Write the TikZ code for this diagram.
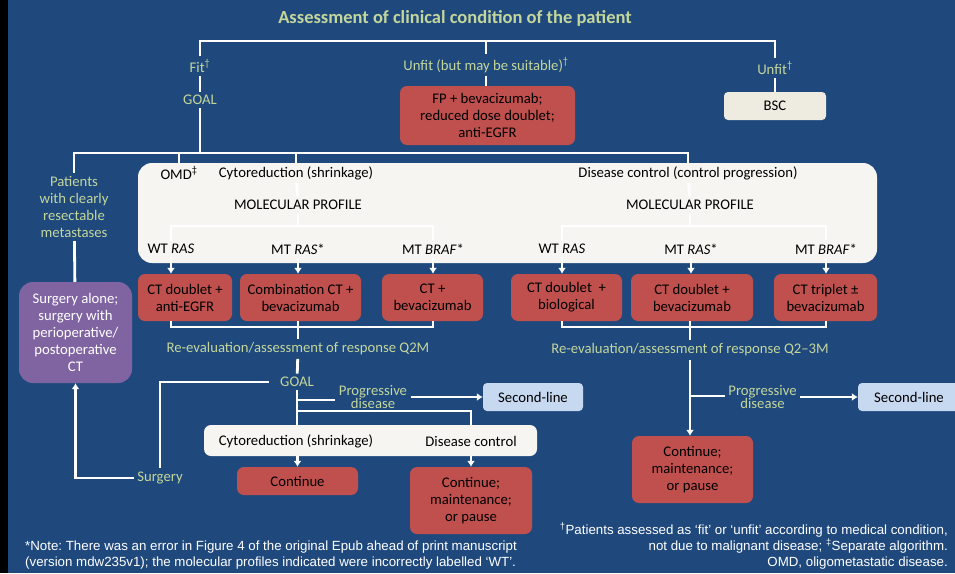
\documentclass[tikz,border=0pt]{standalone}
\usepackage{fontspec}
\setmainfont{Carlito}
\newfontfamily\notefont{Liberation Sans}
\usetikzlibrary{positioning,arrows.meta}
\frenchspacing

\definecolor{bgblue}{HTML}{1F497D}
\definecolor{lgreen}{HTML}{C3D69B}
\definecolor{boxred}{HTML}{C0504D}
\definecolor{boxwhite}{HTML}{F6F5F1}
\definecolor{boxbeige}{HTML}{EEECE1}
\definecolor{boxblue}{HTML}{C6D9F1}
\definecolor{boxpurple}{HTML}{8064A2}

\begin{document}
\begin{tikzpicture}[x=1pt,y=-1pt,>=Latex,
  every node/.style={font=\fontsize{14.7}{17}\selectfont,align=center},
  lbl/.style={text=lgreen},
  title/.style={text=lgreen,font=\bfseries\fontsize{18.5}{20}\selectfont},
  redbox/.style={fill=boxred,rounded corners=7pt,inner sep=0pt},
  whitebox/.style={fill=boxwhite,rounded corners=7pt,inner sep=0pt},
  beigebox/.style={fill=boxbeige,rounded corners=4pt,inner sep=0pt},
  bluebox/.style={fill=boxblue,rounded corners=4pt,inner sep=0pt,minimum width=100,minimum height=28},
  note/.style={text=white,inner sep=0pt,font=\notefont\fontsize{13.3}{16}\selectfont},
  conn/.style={draw=white,line width=2.8pt},
  arr/.style={conn,-{Latex[length=6pt,width=8pt]}},
]
  \useasboundingbox (0,0) rectangle (955,573);
  \clip (0,0) rectangle (955,573);
  \fill[bgblue] (0,0) rectangle (955,573);
  \fill[black] (0,0) rectangle (8,573);

  % condition of the patient
  \node[title] (title) at (455,18) {Assessment of clinical condition of the patient};
  \node[lbl] (fit) at (200,66) {Fit\textsuperscript{†}};
  \node[lbl] (goal) at (200,100) {GOAL};
  \node[lbl] (unfitms) at (486,65) {Unfit (but may be suitable)\textsuperscript{†}};
  \node[lbl] (unfit) at (775,68) {Unfit\textsuperscript{†}};
  \node[redbox,minimum width=175,minimum height=59] (fpbox) at (487.5,115.5) {FP + bevacizumab;\\reduced dose doublet;\\anti-EGFR};
  \node[beigebox,minimum width=102,minimum height=28] (bsc) at (775,106) {BSC};

  \draw[conn] (fit.north) -- (fit.north |- 0,41) -| (unfit.north);
  \draw[conn] (unfitms.north |- 0,41) -- (unfitms.north);
  \draw[conn] (fit) -- (goal);
  \draw[conn] (unfitms) -- (unfitms |- fpbox.north);
  \draw[conn] (unfit) -- (bsc);

  % goal box
  \node[lbl] (patients) at (74,207) {Patients\\with clearly\\resectable\\metastases};
  \node[whitebox,rounded corners=14pt,minimum width=739,minimum height=100] (goalbox) at (507.5,213) {};
  \node (omd) at (179,173) {OMD\textsuperscript{‡}};
  \node (cyto) at (296,173) {Cytoreduction (shrinkage)};
  \node (dc) at (688,173) {Disease control (control progression)};
  \node (mp1) at (298,205) {MOLECULAR PROFILE};
  \node (mp2) at (690,205) {MOLECULAR PROFILE};
  \node (wt1) at (171,249) {WT \textit{RAS}};
  \node (mtr1) at (298,249) {MT \textit{RAS}*};
  \node (braf1) at (433,249) {MT \textit{BRAF}*};
  \node (wt2) at (562,249) {WT \textit{RAS}};
  \node (mtr2) at (691,249) {MT \textit{RAS}*};
  \node (braf2) at (826,249) {MT \textit{BRAF}*};

  \draw[conn] (goal.south) -- (goal.south |- 0,153);
  \draw[conn] (patients.north) -- (patients.north |- 0,153) -| (dc.north);
  \draw[conn] (omd.north |- 0,153) -- (omd.north |- goalbox.north);
  \draw[conn] (cyto.north |- 0,153) -- (cyto.north);
  \draw[conn] (cyto) -- (mp1);
  \draw[conn] (dc) -- (mp2);
  \draw[conn] (mp1.south) -- (mp1.south |- 0,226);
  \draw[conn] (mp2.south) -- (mp2.south |- 0,226);
  \draw[conn] (wt1.north) -- (wt1.north |- 0,226) -| (braf1.north);
  \draw[conn] (wt2.north) -- (wt2.north |- 0,226) -| (braf2.north);

  % first-line treatment
  \begin{scope}[every node/.append style={redbox,minimum height=47}]
    \node[minimum width=94] (r1) at (185,297.5) {CT doublet +\\anti-EGFR};
    \node[minimum width=121] (r2) at (300.5,297.5) {Combination CT +\\bevacizumab};
    \node[minimum width=101] (r3) at (432.5,297.5) {CT +\\bevacizumab};
    \node[minimum width=111] (r4) at (566.5,297.5) {CT doublet \ +\\biological};
    \node[minimum width=122] (r5) at (692,297.5) {CT doublet +\\bevacizumab};
    \node[minimum width=103] (r6) at (825.5,297.5) {CT triplet ±\\bevacizumab};
  \end{scope}
  \foreach \a/\b in {wt1/r1,mtr1/r2,braf1/r3,wt2/r4,mtr2/r5,braf2/r6}
    \draw[arr] (\a.south) -- (\a.south |- \b.north);

  \node[lbl] (reeval1) at (298,349) {Re-evaluation/assessment of response Q2M};
  \node[lbl] (reeval2) at (690,350) {Re-evaluation/assessment of response Q2–3M};
  \draw[conn] (r1.south -| wt1) -- (wt1 |- 0,327) -| (r3.south -| braf1);
  \draw[conn] (r4.south -| wt2) -- (wt2 |- 0,327) -| (r6.south -| braf2);
  \draw[conn] (r2.south -| reeval1) -- (reeval1);
  \draw[conn] (r5.south -| reeval2) -- (reeval2);

  % surgery
  \node[fill=boxpurple,rounded corners=14pt,inner sep=0pt,text=white,minimum width=113,minimum height=101] (purple) at (75.5,332.5) {Surgery alone;\\surgery with\\perioperative/\\postoperative\\CT};
  \draw[conn] (patients) -- (purple);

  % after re-evaluation, left
  \node[lbl] (goal2) at (297,382) {GOAL};
  \node[lbl,font=\fontsize{14.7}{13}\selectfont] (prog1) at (373,396.5) {Progressive\\disease};
  \node[bluebox] (second1) at (533,397) {Second-line};
  \node[whitebox,minimum width=333,minimum height=31] (white2) at (370.5,440.5) {};
  \node (cyto2) at (296,441) {Cytoreduction (shrinkage)};
  \node (dc2) at (471,441) {Disease control};
  \node[lbl] (surgery) at (160,478) {Surgery};
  \node[redbox,minimum width=121,minimum height=28] (cont1) at (297.5,481) {Continue};
  \node[redbox,minimum width=122,minimum height=67] (cont2) at (471,500.5) {Continue;\\maintenance;\\or pause};

  \draw[conn] (reeval1) -- (goal2);
  \draw[conn,shorten <=8pt] (goal2.west) -| (surgery.north);
  \draw[arr] (surgery.west) -| (purple.south);
  \draw[conn] (goal2.south) -- (goal2.south |- white2.north);
  \draw[conn] (goal2.south |- 0,400) -- (prog1.west |- 0,400);
  \draw[arr] (prog1.east |- second1) -- (second1.west);
  \draw[conn] (goal2.south |- 0,411) -| (dc2.north |- white2.north);
  \draw[arr] (cont1 |- white2.south) -- (cont1.north);
  \draw[arr] (cont2 |- white2.south) -- (cont2.north);

  % after re-evaluation, right
  \node[lbl,font=\fontsize{14.7}{13}\selectfont] (prog2) at (762.5,396.5) {Progressive\\disease};
  \node[bluebox,minimum width=102] (second2) at (909,397) {Second-line};
  \node[redbox,minimum width=121,minimum height=67] (cont3) at (692.5,469.5) {Continue;\\maintenance;\\or pause};
  \draw[arr] (reeval2.south) -- (reeval2.south |- cont3.north);
  \draw[conn] (reeval2.south |- 0,396) -- (prog2.west |- 0,396);
  \draw[arr] (prog2.east |- second2) -- (second2.west);

  % notes
  \node[note,anchor=west,align=left] (note1) at (25,555) {*Note: There was an error in Figure 4 of the original Epub ahead of print manuscript\\(version mdw235v1); the molecular profiles indicated were incorrectly labelled ‘WT’.};
  \node[note,anchor=east,align=right] (note2) at (948,546) {\textsuperscript{†}Patients assessed as ‘fit’ or ‘unfit’ according to medical condition,\\not due to malignant disease; \textsuperscript{‡}Separate algorithm.\\OMD, oligometastatic disease.};
\end{tikzpicture}
\end{document}
